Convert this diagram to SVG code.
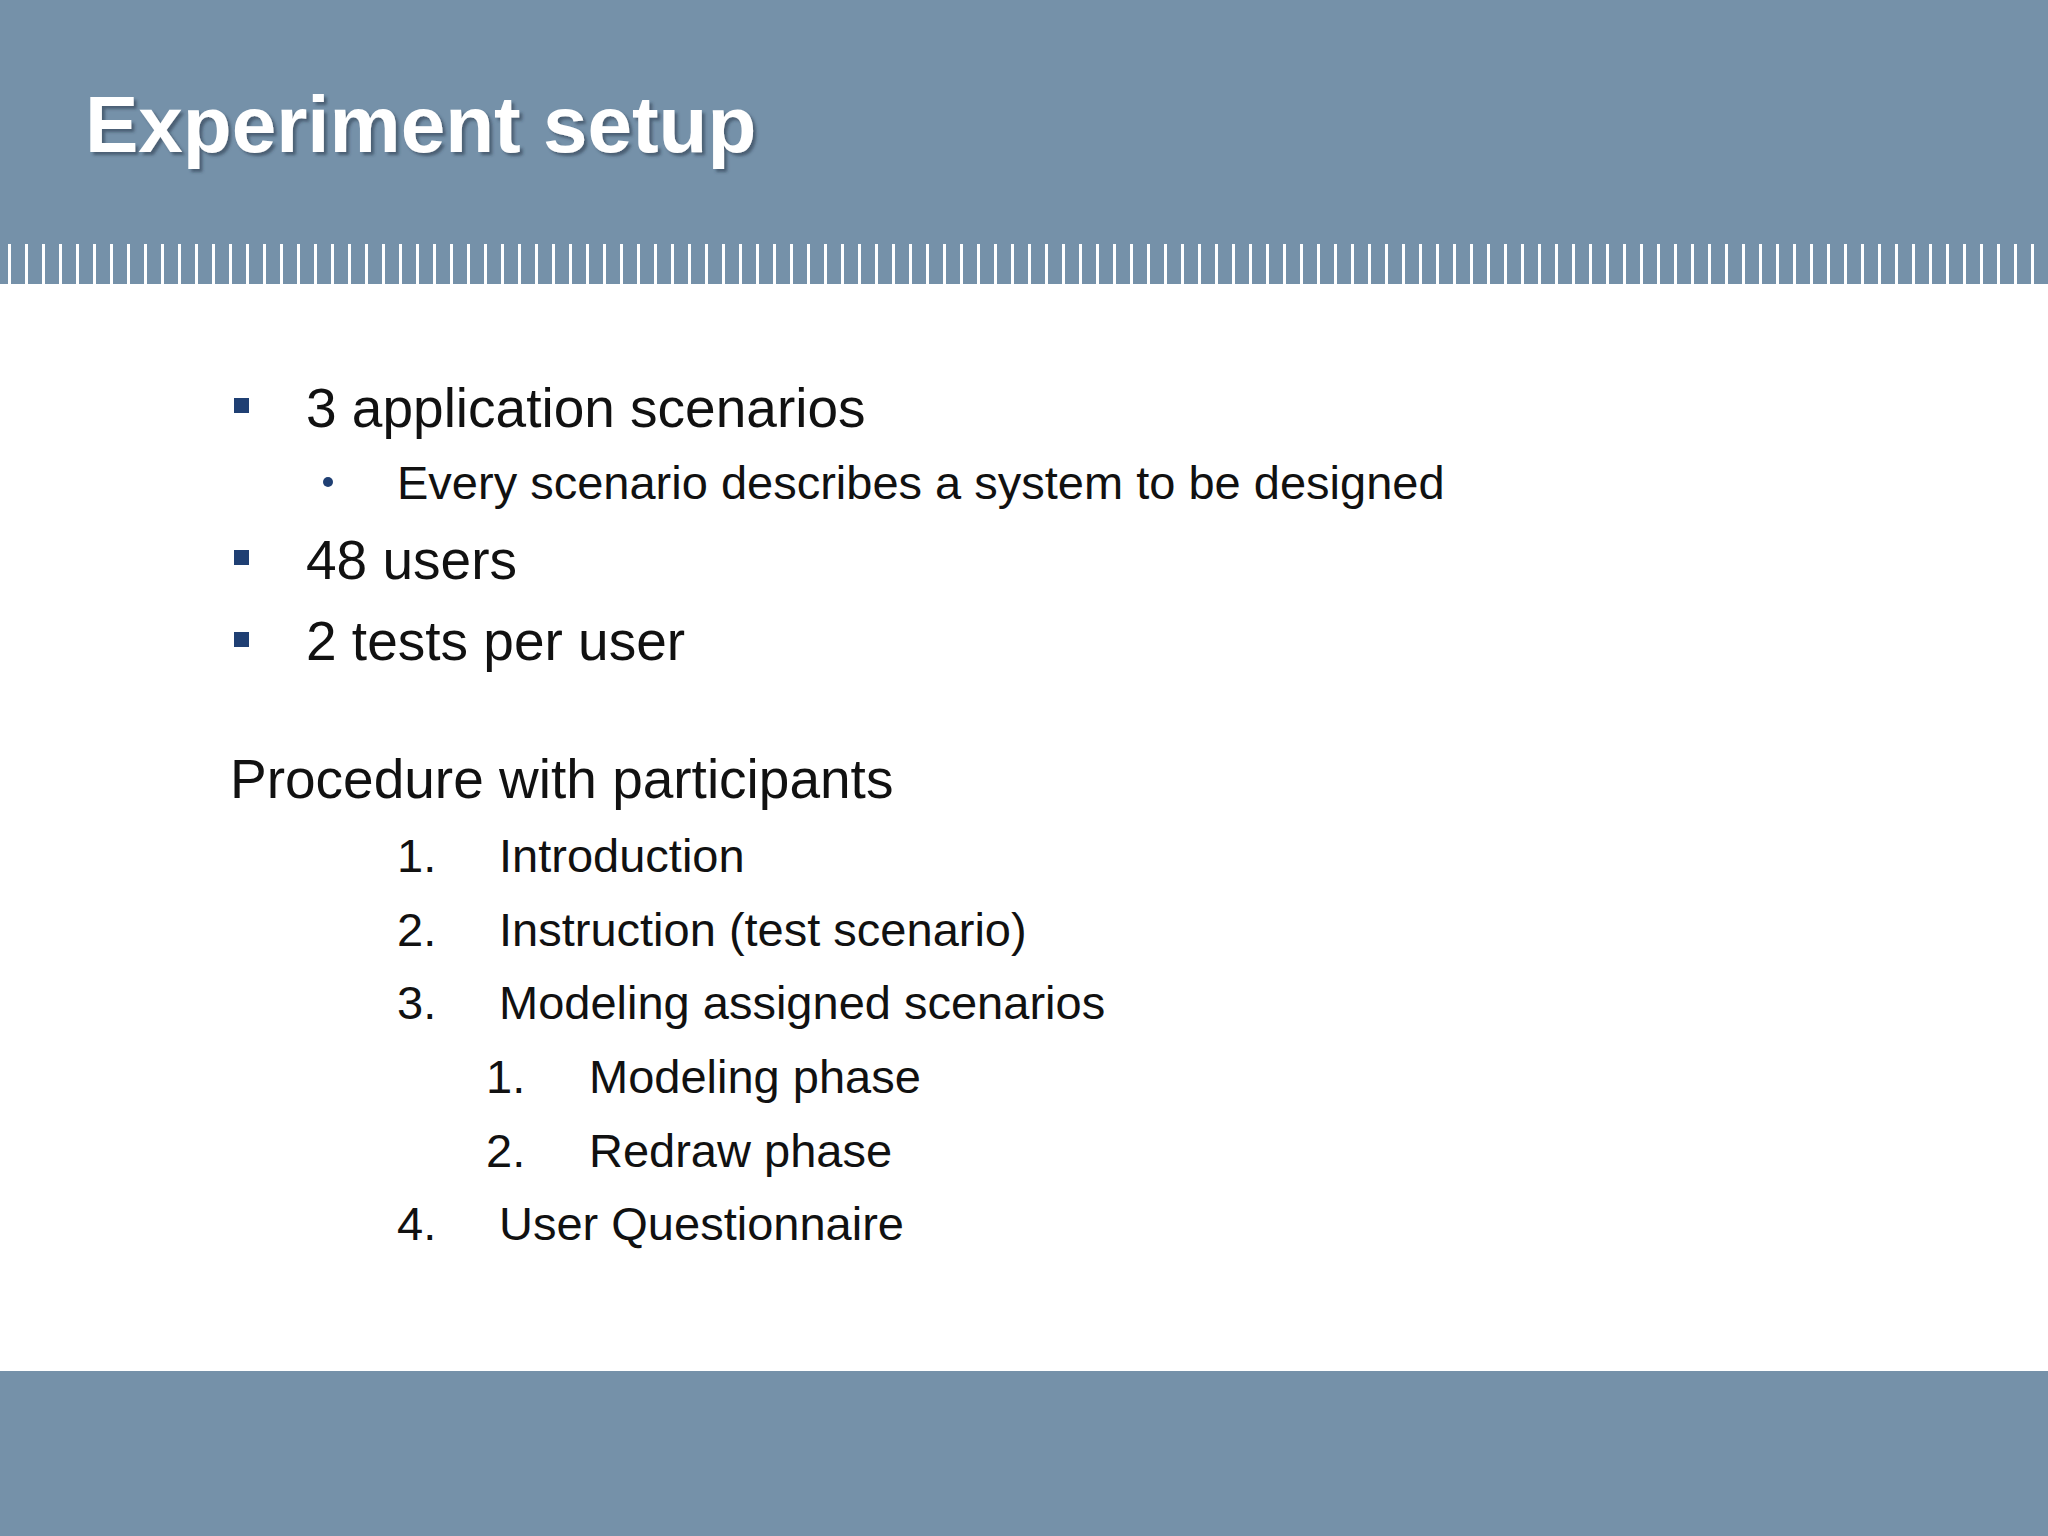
<svg xmlns="http://www.w3.org/2000/svg" width="2048" height="1536" viewBox="0 0 2048 1536">
<defs>
<pattern id="ticks" x="8" y="0" width="17" height="40" patternUnits="userSpaceOnUse"><rect x="0" y="0" width="3" height="40" fill="#ffffff"/></pattern>
<filter id="sh" x="-5%" y="-20%" width="110%" height="140%"><feDropShadow dx="3" dy="3" stdDeviation="1.5" flood-color="#2a3a50" flood-opacity="0.6"/></filter>
</defs>
<style>
text{font-family:"Liberation Sans",Arial,sans-serif;fill:#111}
.l1{font-size:55px}
.l2{font-size:47px}
.sq{fill:#1f3f73}
</style>
<rect width="2048" height="1536" fill="#fff"/>
<rect x="0" y="0" width="2048" height="284" fill="#7591a9"/>
<rect x="0" y="244" width="2048" height="40" fill="url(#ticks)"/>
<rect x="0" y="1371" width="2048" height="165" fill="#7591a9"/>
<text x="85" y="152" style="font-size:80px;font-weight:bold;fill:#fff" filter="url(#sh)">Experiment setup</text>
<rect class="sq" x="234" y="398" width="15" height="15"/>
<text class="l1" x="306" y="427">3 application scenarios</text>
<circle class="sq" cx="328" cy="482" r="5"/>
<text class="l2" x="397" y="499">Every scenario describes a system to be designed</text>
<rect class="sq" x="234" y="550" width="15" height="15"/>
<text class="l1" x="306" y="579">48 users</text>
<rect class="sq" x="234" y="632" width="15" height="15"/>
<text class="l1" x="306" y="660">2 tests per user</text>
<text class="l1" x="230" y="798">Procedure with participants</text>
<text class="l2" x="397" y="872">1.</text><text class="l2" x="499" y="872">Introduction</text>
<text class="l2" x="397" y="946">2.</text><text class="l2" x="499" y="946">Instruction (test scenario)</text>
<text class="l2" x="397" y="1019">3.</text><text class="l2" x="499" y="1019">Modeling assigned scenarios</text>
<text class="l2" x="486" y="1093">1.</text><text class="l2" x="589" y="1093">Modeling phase</text>
<text class="l2" x="486" y="1167">2.</text><text class="l2" x="589" y="1167">Redraw phase</text>
<text class="l2" x="397" y="1240">4.</text><text class="l2" x="499" y="1240">User Questionnaire</text>
</svg>
